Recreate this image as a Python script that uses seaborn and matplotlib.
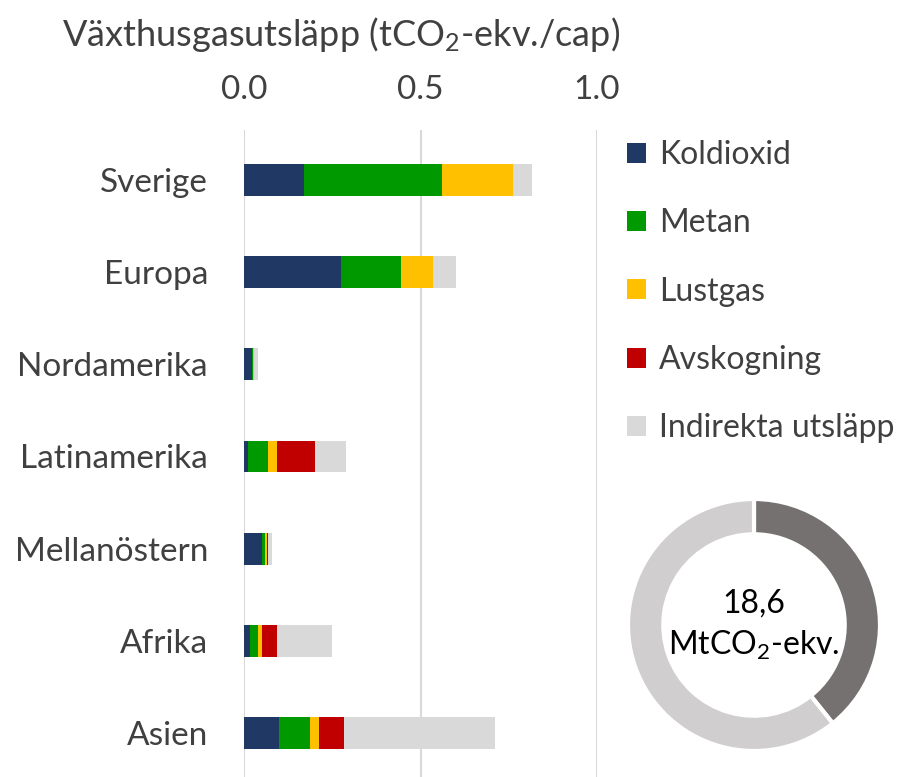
import matplotlib
matplotlib.use("Agg")
import matplotlib.pyplot as plt
import numpy as np
import pandas as pd
import seaborn as sns
from matplotlib.patches import Patch

regions = ["Sverige", "Europa", "Nordamerika", "Latinamerika",
           "Mellanöstern", "Afrika", "Asien"]
koldioxid = [0.170, 0.276, 0.024, 0.012, 0.050, 0.018, 0.100]
metan = [0.392, 0.168, 0.001, 0.055, 0.010, 0.021, 0.086]
lustgas = [0.200, 0.092, 0.004, 0.027, 0.006, 0.013, 0.026]
avskogning = [0.000, 0.000, 0.000, 0.108, 0.001, 0.042, 0.071]
indirekta = [0.053, 0.064, 0.010, 0.086, 0.011, 0.156, 0.429]

series_names = ["Koldioxid", "Metan", "Lustgas", "Avskogning", "Indirekta utsläpp"]
series_colors = ["#203864", "#009900", "#FFC000", "#C00000", "#D9D9D9"]

donut_values = [7.3, 11.3]
donut_colors = ["#767171", "#D0CECE"]
donut_label = "18,6\nMtCO$_2$-ekv."

xticks = [0.0, 0.5, 1.0]
xtick_labels = ["0.0", "0.5", "1.0"]
title = "Växthusgasutsläpp (tCO$_2$-ekv./cap)"

sns.set_theme(style="white")
plt.rcParams["font.family"] = ["Lato", "DejaVu Sans"]
plt.rcParams["mathtext.fontset"] = "custom"
plt.rcParams["mathtext.rm"] = "Lato"
plt.rcParams["mathtext.default"] = "regular"
TXT = "#404040"
FS = 24

df = pd.DataFrame({"region": regions, "Koldioxid": koldioxid, "Metan": metan,
                   "Lustgas": lustgas, "Avskogning": avskogning,
                   "Indirekta utsläpp": indirekta})
cum = df[series_names].cumsum(axis=1)

fig = plt.figure(figsize=(9.04, 7.77), dpi=100)
W, H = 904, 777
x0, x1, ytop = 244, 597, 130
ax = fig.add_axes([x0 / W, 0, (x1 - x0) / W, (H - ytop) / H])

# draw from the full stack down so each segment shows its own colour
for name, color in reversed(list(zip(series_names, series_colors))):
    sns.barplot(x=cum[name], y=df["region"], orient="h", color=color,
                width=0.345, ax=ax, saturation=1, edgecolor="none")

ax.set_xlim(0, 1.0)
ax.set_ylim(6.477, -0.542)
ax.set_xlabel("")
ax.set_ylabel("")
ax.xaxis.tick_top()
ax.set_xticks(xticks)
ax.set_xticklabels(xtick_labels)
ax.tick_params(axis="x", length=0, pad=18, labelsize=FS, labelcolor=TXT)
ax.tick_params(axis="y", length=0, pad=26, labelsize=FS, labelcolor=TXT)
ax.grid(axis="x", color="#D9D9D9", linewidth=1.5)
ax.set_axisbelow(True)
for s in ax.spines.values():
    s.set_visible(False)

fig.text(62 / W, 1 - 35 / H, title, fontsize=26, color=TXT, va="center", ha="left")

handles = [Patch(facecolor=c, edgecolor="none") for c in series_colors]
fig.legend(handles, series_names, loc="upper left",
           bbox_to_anchor=(627 / W, 1 - 140 / H), frameon=False,
           fontsize=23, labelcolor=TXT, handlelength=0.58, handleheight=0.58,
           handletextpad=0.42, labelspacing=1.2, borderaxespad=0, borderpad=0)

cx, cy, r = 754, 625, 126
pad = 1.1
ax2 = fig.add_axes([(cx - r * pad) / W, 1 - (cy + r * pad) / H,
                    2 * r * pad / W, 2 * r * pad / H])
ax2.pie(donut_values, colors=donut_colors, startangle=90, counterclock=False,
        wedgeprops=dict(width=0.28, edgecolor="white", linewidth=3))
ax2.set_xlim(-pad, pad)
ax2.set_ylim(-pad, pad)
ax2.text(0, 0, donut_label, ha="center", va="center", fontsize=23,
         color="black", linespacing=1.4)

fig.savefig("out.png", dpi=100)
